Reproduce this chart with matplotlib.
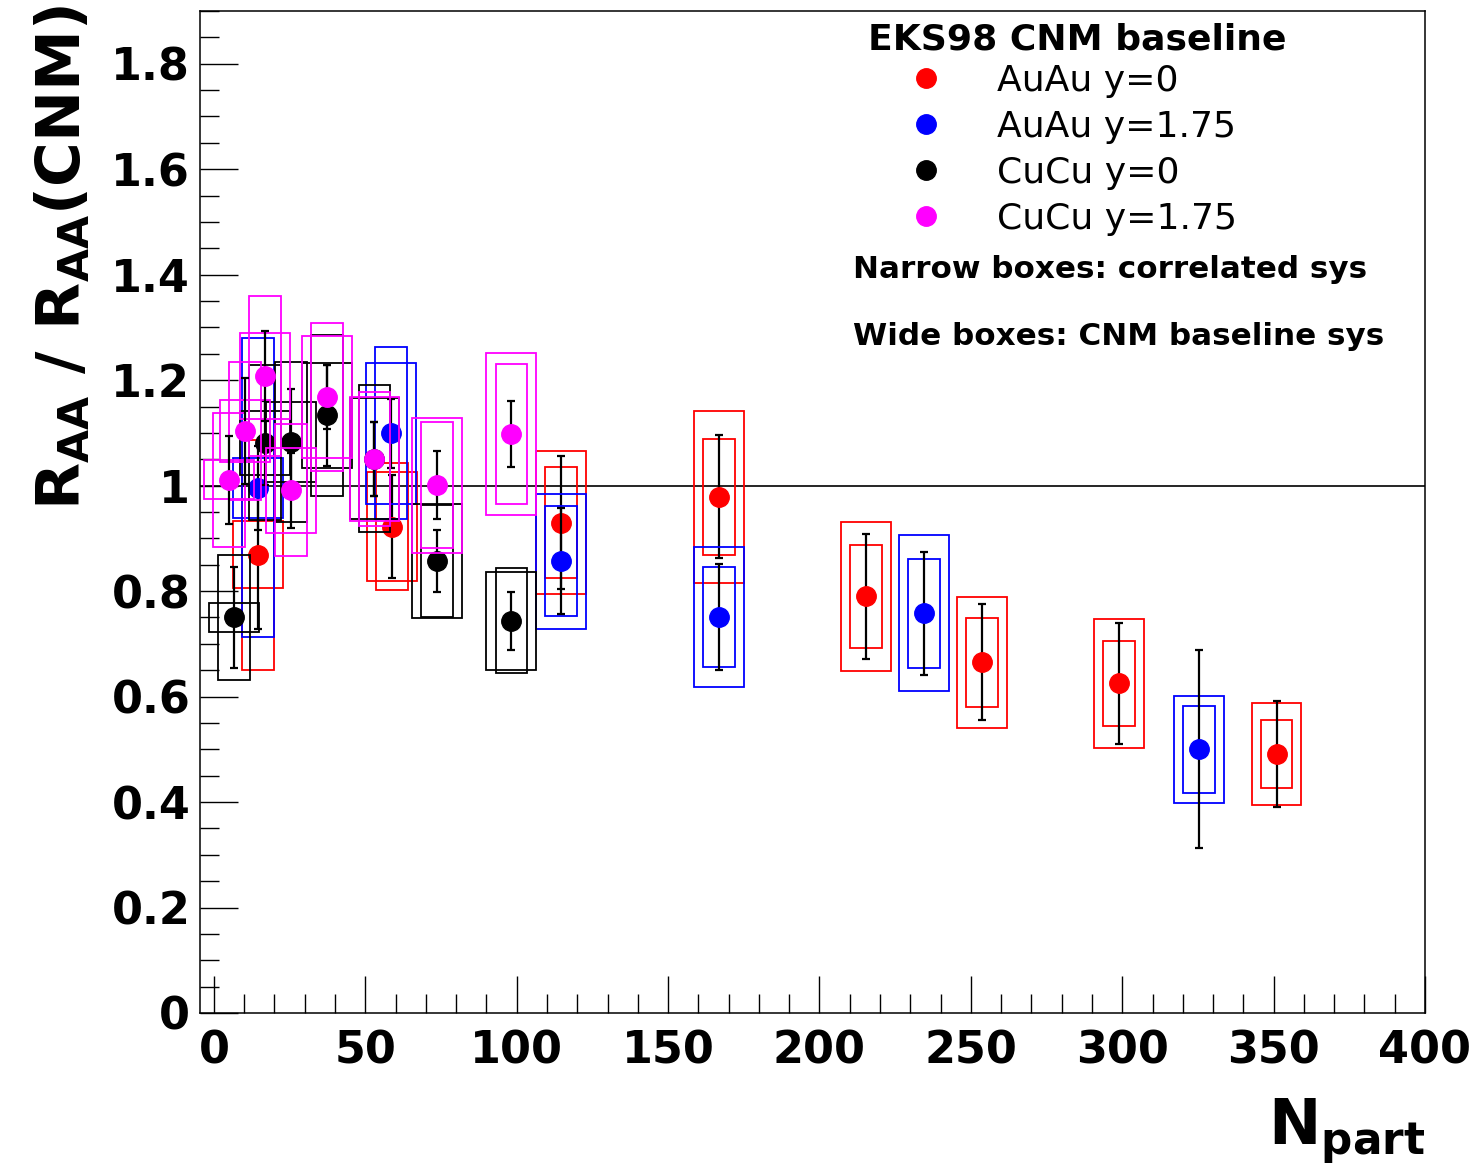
import matplotlib
matplotlib.use("Agg")
import matplotlib.pyplot as plt
from matplotlib.patches import Rectangle
from matplotlib.lines import Line2D
from matplotlib.ticker import MultipleLocator, FuncFormatter

# AuAu, y=0
auau_y0_npart = [14.5, 58.8, 114.6, 166.8, 215.4, 253.7, 299.0, 351.0]
auau_y0_r = [0.869, 0.922, 0.930, 0.979, 0.790, 0.665, 0.625, 0.491]
auau_y0_stat = [0.140, 0.098, 0.126, 0.117, 0.119, 0.110, 0.114, 0.101]
auau_y0_corr = [0.218, 0.120, 0.105, 0.110, 0.098, 0.084, 0.080, 0.064]
auau_y0_cnm = [0.063, 0.103, 0.136, 0.163, 0.141, 0.124, 0.122, 0.097]

# AuAu, y=1.75
auau_y175_npart = [14.5, 58.5, 114.6, 166.8, 234.6, 325.4]
auau_y175_r = [0.996, 1.099, 0.857, 0.751, 0.758, 0.500]
auau_y175_stat = [0.080, 0.065, 0.101, 0.100, 0.117, 0.188]
auau_y175_corr = [0.283, 0.163, 0.104, 0.095, 0.103, 0.083]
auau_y175_cnm = [0.057, 0.133, 0.128, 0.132, 0.148, 0.102]

# CuCu, y=0
cucu_y0_npart = [6.6, 16.8, 25.4, 37.3, 53.0, 73.6, 98.2]
cucu_y0_r = [0.750, 1.081, 1.083, 1.133, 1.051, 0.857, 0.744]
cucu_y0_stat = [0.096, 0.080, 0.100, 0.095, 0.070, 0.058, 0.055]
cucu_y0_corr = [0.118, 0.147, 0.152, 0.153, 0.139, 0.107, 0.099]
cucu_y0_cnm = [0.028, 0.060, 0.076, 0.100, 0.115, 0.108, 0.093]

# CuCu, y=1.75
cucu_y175_npart = [5.0, 10.2, 16.8, 25.4, 37.3, 53.0, 73.6, 98.2]
cucu_y175_r = [1.011, 1.104, 1.208, 0.991, 1.168, 1.050, 1.001, 1.098]
cucu_y175_stat = [0.083, 0.100, 0.085, 0.071, 0.060, 0.070, 0.064, 0.063]
cucu_y175_corr = [0.127, 0.131, 0.151, 0.125, 0.140, 0.127, 0.120, 0.133]
cucu_y175_cnm = [0.037, 0.059, 0.082, 0.081, 0.115, 0.118, 0.128, 0.153]

series = [
    ("AuAu y=0", "#ff0000", auau_y0_npart, auau_y0_r, auau_y0_stat, auau_y0_corr, auau_y0_cnm),
    ("AuAu y=1.75", "#0000ff", auau_y175_npart, auau_y175_r, auau_y175_stat, auau_y175_corr, auau_y175_cnm),
    ("CuCu y=0", "#000000", cucu_y0_npart, cucu_y0_r, cucu_y0_stat, cucu_y0_corr, cucu_y0_cnm),
    ("CuCu y=1.75", "#ff00ff", cucu_y175_npart, cucu_y175_r, cucu_y175_stat, cucu_y175_corr, cucu_y175_cnm),
]

narrow_hw = 5.2   # half width of correlated sys boxes (Npart units)
wide_hw = 8.2     # half width of CNM baseline boxes

W, H = 1479, 1172
fig = plt.figure(figsize=(W / 100, H / 100), dpi=100)
ax = fig.add_axes([200 / W, 159 / H, 1225 / W, 1002 / H])

z = 2
for name, col, xs, ys, st, corr, cnm in series:
    for x, y, c, w in zip(xs, ys, corr, cnm):
        ax.add_patch(Rectangle((x - narrow_hw, y - c), 2 * narrow_hw, 2 * c,
                               fill=False, edgecolor=col, lw=1.3, zorder=z))
        ax.add_patch(Rectangle((x - wide_hw, y - w), 2 * wide_hw, 2 * w,
                               fill=False, edgecolor=col, lw=1.3, zorder=z))
    ax.errorbar(xs, ys, yerr=st, fmt="none", ecolor="black", elinewidth=1.6,
                capsize=3, capthick=1.6, zorder=z + 1)
    ax.plot(xs, ys, "o", color=col, ms=14, mec=col, zorder=z + 2)
    z += 3

ax.axhline(1.0, color="black", lw=1.2, zorder=1)

ax.set_xlim(-4.6, 400)
ax.set_ylim(0, 1.9)
ax.xaxis.set_major_locator(MultipleLocator(50))
ax.xaxis.set_minor_locator(MultipleLocator(10))
ax.yaxis.set_major_locator(MultipleLocator(0.2))
ax.yaxis.set_minor_locator(MultipleLocator(0.05))
ax.yaxis.set_major_formatter(FuncFormatter(lambda v, p: "%g" % round(v, 2)))
ax.tick_params(which="both", direction="in", top=False, right=False, width=1.0)
ax.tick_params(which="major", length=27)
ax.tick_params(which="minor", length=13.5)
ax.tick_params(axis="y", which="major", pad=7)
ax.tick_params(axis="x", which="major", pad=12)
for lab in ax.get_xticklabels() + ax.get_yticklabels():
    lab.set_fontsize(32)
    lab.set_fontweight("bold")
for s in ax.spines.values():
    s.set_linewidth(1.1)

# axis titles
fig.text(80 / W, 1 - 5 / H, r"R$_{\mathbf{AA}}$ / R$_{\mathbf{AA}}$(CNM)",
         rotation=90, rotation_mode="anchor", ha="right", va="baseline",
         fontsize=44, fontweight="bold")
fig.text(1425 / W, 1 - 1145 / H, r"N$_{\mathbf{part}}$", ha="right", va="baseline",
         fontsize=45, fontweight="bold")

# legend
fig.text(868 / W, 1 - 50 / H, "EKS98 CNM baseline", fontsize=26, fontweight="bold")
handles = [Line2D([], [], ls="none", marker="o", ms=14, color=s[1]) for s in series]
fig.legend(handles, [s[0] for s in series], loc="upper left",
           bbox_to_anchor=(904 / W, 1 - 64 / H), frameon=False, fontsize=26,
           borderpad=0, borderaxespad=0, handlelength=1.2, handletextpad=1.37,
           labelspacing=0.33)
fig.text(853 / W, 1 - 278 / H, "Narrow boxes: correlated sys", fontsize=22.3, fontweight="bold")
fig.text(853 / W, 1 - 345 / H, "Wide boxes: CNM baseline sys", fontsize=22.3, fontweight="bold")

fig.savefig("out.png", dpi=100)
